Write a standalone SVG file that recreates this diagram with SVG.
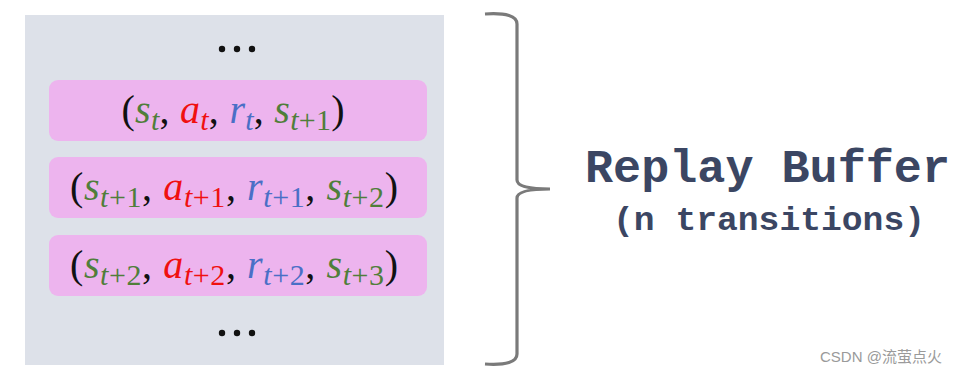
<svg xmlns="http://www.w3.org/2000/svg" width="971" height="373" viewBox="0 0 971 373">
<style>
.row{fill:#edb4ee}
.m{font-family:"Liberation Serif","DejaVu Serif",serif;font-size:40px;font-style:italic}
.p{font-style:normal;fill:#111}
.s{fill:#507e3a}
.a{fill:#f01010}
.r{fill:#4a6fc6}
.sub{font-size:30px}
.dots{fill:#111}
.title{font-family:"Liberation Mono","Courier New",monospace;font-weight:bold;fill:#3b4663}
</style>
<rect width="971" height="373" fill="#ffffff"/>
<g id="buffer">
<rect x="25" y="15" width="419" height="350" fill="#dde1e9"/>
</g>
<g id="dots-top" class="dots">
<circle cx="222" cy="49" r="3.2"/><circle cx="237" cy="49" r="3.2"/><circle cx="252" cy="49" r="3.2"/>
</g>
<g id="t1">
<rect class="row" x="49" y="80" width="378" height="61" rx="9"/>
<text class="m" x="233" y="123" text-anchor="middle" textLength="223" lengthAdjust="spacing"><tspan class="p">(</tspan><tspan class="s">s</tspan><tspan class="s sub" dy="7">t</tspan><tspan class="p" dy="-7">, </tspan><tspan class="a">a</tspan><tspan class="a sub" dy="7">t</tspan><tspan class="p" dy="-7">, </tspan><tspan class="r">r</tspan><tspan class="r sub" dy="7">t</tspan><tspan class="p" dy="-7">, </tspan><tspan class="s">s</tspan><tspan class="s sub" dy="7">t<tspan font-style="normal">+1</tspan></tspan><tspan class="p" dy="-7">)</tspan></text>
</g>
<g id="t2">
<rect class="row" x="49" y="157" width="378" height="61" rx="9"/>
<text class="m" x="234" y="200" text-anchor="middle" textLength="328" lengthAdjust="spacing"><tspan class="p">(</tspan><tspan class="s">s</tspan><tspan class="s sub" dy="7">t<tspan font-style="normal">+1</tspan></tspan><tspan class="p" dy="-7">, </tspan><tspan class="a">a</tspan><tspan class="a sub" dy="7">t<tspan font-style="normal">+1</tspan></tspan><tspan class="p" dy="-7">, </tspan><tspan class="r">r</tspan><tspan class="r sub" dy="7">t<tspan font-style="normal">+1</tspan></tspan><tspan class="p" dy="-7">, </tspan><tspan class="s">s</tspan><tspan class="s sub" dy="7">t<tspan font-style="normal">+2</tspan></tspan><tspan class="p" dy="-7">)</tspan></text>
</g>
<g id="t3">
<rect class="row" x="49" y="235" width="378" height="61" rx="9"/>
<text class="m" x="234" y="278" text-anchor="middle" textLength="328" lengthAdjust="spacing"><tspan class="p">(</tspan><tspan class="s">s</tspan><tspan class="s sub" dy="7">t<tspan font-style="normal">+2</tspan></tspan><tspan class="p" dy="-7">, </tspan><tspan class="a">a</tspan><tspan class="a sub" dy="7">t<tspan font-style="normal">+2</tspan></tspan><tspan class="p" dy="-7">, </tspan><tspan class="r">r</tspan><tspan class="r sub" dy="7">t<tspan font-style="normal">+2</tspan></tspan><tspan class="p" dy="-7">, </tspan><tspan class="s">s</tspan><tspan class="s sub" dy="7">t<tspan font-style="normal">+3</tspan></tspan><tspan class="p" dy="-7">)</tspan></text>
</g>
<g id="dots-bottom" class="dots">
<circle cx="222" cy="333" r="3.2"/><circle cx="237" cy="333" r="3.2"/><circle cx="252" cy="333" r="3.2"/>
</g>
<g id="connectors">
<path d="M485 14 Q517 12 517 24 L517 180 Q517 189 550 189 Q517 189 517 198 L517 354 Q517 366 485 364" fill="none" stroke="#7a7a7a" stroke-width="3.2"/>
</g>
<g id="label">
<text class="title" x="585" y="182" font-size="47" textLength="365" lengthAdjust="spacingAndGlyphs">Replay Buffer</text>
<text class="title" x="613" y="230" font-size="33" textLength="312" lengthAdjust="spacingAndGlyphs">(n transitions)</text>
</g>
<text x="820" y="362" font-family="'Liberation Sans','Noto Sans CJK SC',sans-serif" font-size="15" fill="#9a9a9a">CSDN @流萤点火</text>
</svg>
